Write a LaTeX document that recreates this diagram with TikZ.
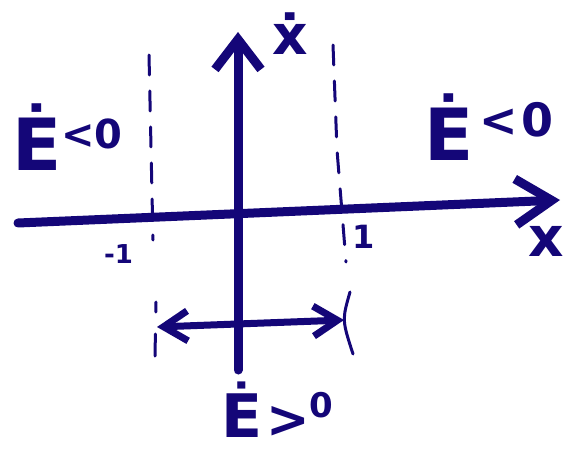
\documentclass[tikz,border=0pt]{standalone}
\usepackage{fontspec}
\setmainfont{DejaVu Sans}
\usetikzlibrary{arrows.meta, positioning}
\definecolor{ink}{RGB}{20,6,120}

\begin{document}
\begin{tikzpicture}[x=1pt, y=-1pt,
  axis/.style={draw=ink, line width=9pt, line cap=round},
  arr/.style={-{Straight Barb[length=#1, width=46pt]}},
  twoarr/.style={draw=ink, line width=7pt, line cap=round, {Straight Barb[length=24pt, width=30pt]}-{Straight Barb[length=24pt, width=30pt]}},
  guide/.style={draw=ink, line width=3pt, line cap=round, dash pattern=on 20pt off 16pt},
  big/.style={font=\fontsize{72}{72}\selectfont\bfseries, text=ink, inner sep=0pt, anchor=base west},
  lbl/.style={font=\fontsize{#1}{#1}\selectfont\bfseries, text=ink, inner sep=0pt, anchor=base west}
]
  \useasboundingbox (0,0) rectangle (569,452);

  \coordinate (xstart) at (18,223);
  \coordinate (xend) at (560,200);
  \coordinate (ystart) at (238,370);
  \coordinate (yend) at (238,32);
  \coordinate (lft) at (157,327);
  \coordinate (rgt) at (344,320);

  % dashed guides at -1 and 1
  \draw[guide] (149,55) -- (153,240);
  \draw[guide, dash pattern=on 10pt off 22pt on 24pt off 40pt] (156,302) -- (155,356);
  \draw[guide] (333,45) -- (337,150) -- (346,262);
  \draw[draw=ink, line width=3pt, line cap=round] (350,292) .. controls (342,320) .. (353,354);

  \draw[axis, arr=36pt] (xstart) -- (xend);
  \draw[axis, arr=30pt] (ystart) -- (yend);
  \draw[twoarr] (lft) -- (rgt);

  % axis labels
  \node[lbl=55] (xdot) at (272,55) {ẋ};
  \node[lbl=55] (xlab) at (528,256) {x};
  \node[lbl=26] (mone) at (104,263) {-1};
  \node[lbl=32] (one) at (352,248) {1};

  % energy labels
  \node[big] (eleft) at (12,170) {Ė\raisebox{22pt}{\fontsize{40}{40}\selectfont<0}};
  \node[big] (eright) at (424,160) {Ė\hspace{6pt}\raisebox{24pt}{\fontsize{46}{46}\selectfont<\hspace{4pt}0}};
  \node[big, font=\fontsize{60}{60}\selectfont\bfseries] (ebot) at (221,437) {Ė\hspace{4pt}\fontsize{52}{52}\selectfont>\raisebox{20pt}{\fontsize{34}{34}\selectfont 0}};
\end{tikzpicture}
\end{document}
